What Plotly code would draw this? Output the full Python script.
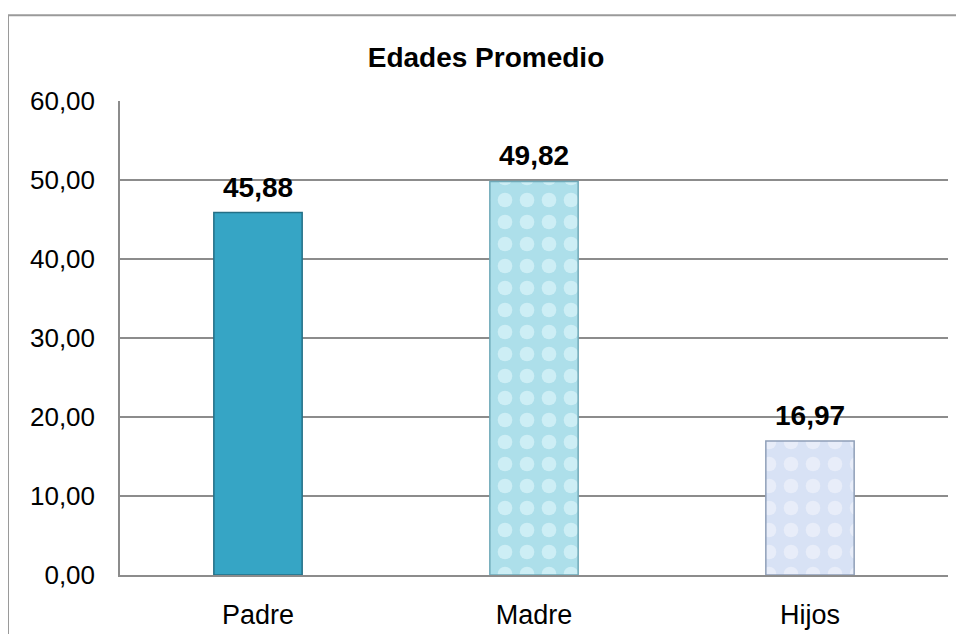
import plotly.graph_objects as go

# datos
categorias = ["Padre", "Madre", "Hijos"]
edades = [45.88, 49.82, 16.97]
colores = ["#36a5c5", "#addfea", "#d8e2f5"]
lineas = ["#246f86", "#6fa9b8", "#8f9fb8"]
patron = ["", ".", "."]
patron_fg = ["#36a5c5", "#cdeef5", "#e8edf9"]
y_ticks = [0, 10, 20, 30, 40, 50, 60]

fuente = "Liberation Sans, Arial, sans-serif"

# la página añade 8 px de margen al cuerpo
off = 8
izq, der, arriba, abajo = 120 - off, 948 - off, 101 - off, 577 - off
ancho, alto = 964, 634
pw, ph = der - izq, abajo - arriba

fig = go.Figure()
for c, v, col, lin, pat, fg in zip(categorias, edades, colores, lineas, patron, patron_fg):
    fig.add_trace(go.Bar(
        x=[c], y=[v], name=c,
        marker=dict(
            color=col,
            line=dict(color=lin, width=1.5),
            pattern=dict(shape=pat, fgcolor=fg, bgcolor=col,
                         size=22, solidity=0.35, fillmode="replace"),
        ),
        width=0.32,
        hoverinfo="x+y",
    ))

# etiquetas de datos
for c, v in zip(categorias, edades):
    fig.add_annotation(
        x=c, y=v, text="<b>" + f"{v:.2f}".replace(".", ",") + "</b>",
        showarrow=False, yanchor="bottom", yshift=8,
        font=dict(family=fuente, size=28, color="#000000"),
    )

# marco exterior del gráfico
fig.add_shape(type="rect", xref="paper", yref="paper",
              x0=(8 - off - izq) / pw, x1=(ancho + 10 - izq) / pw,
              y0=(abajo - alto - 10) / ph, y1=(abajo - (15 - off)) / ph,
              line=dict(color="#9a9a9a", width=2), fillcolor="rgba(0,0,0,0)",
              layer="below")

fig.update_layout(
    width=ancho, height=alto,
    margin=dict(l=izq, r=ancho - der, t=arriba, b=alto - abajo),
    paper_bgcolor="white", plot_bgcolor="white",
    separators=",.",
    showlegend=False,
    barmode="overlay",
    title=dict(text="<b>Edades Promedio</b>", x=(486 - off) / ancho, xref="container",
               xanchor="center", y=1 - (57 - off) / alto, yref="container", yanchor="middle",
               font=dict(family=fuente, size=28, color="#000000")),
    font=dict(family=fuente, color="#000000"),
)
fig.update_yaxes(range=[0, 60], tickvals=y_ticks, tickformat=".2f",
                 showgrid=True, gridcolor="#8c8c8c", gridwidth=1.5,
                 showline=True, linecolor="#8c8c8c", linewidth=1.5,
                 zeroline=False, ticks="", ticklabelstandoff=18,
                 tickfont=dict(family=fuente, size=26, color="#000000"))
fig.update_xaxes(showline=True, linecolor="#8c8c8c", linewidth=1.5,
                 categoryorder="array", categoryarray=categorias,
                 ticks="outside", ticklen=15, tickcolor="rgba(0,0,0,0)",
                 tickfont=dict(family=fuente, size=27, color="#000000"))

fig.write_html("out.html")
